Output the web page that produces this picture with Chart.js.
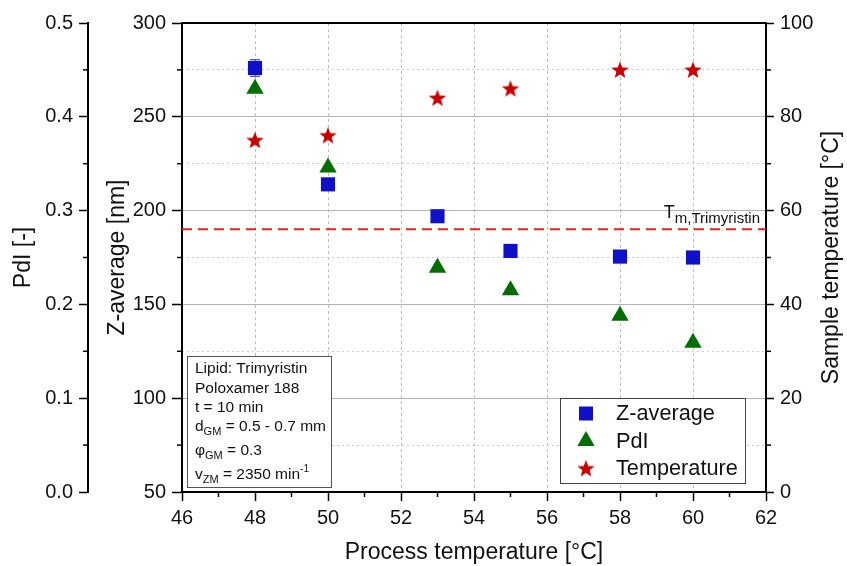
<!DOCTYPE html>
<html><head><meta charset="utf-8">
<script src="https://cdn.jsdelivr.net/npm/chart.js@4/dist/chart.umd.min.js"></script>
<style>html,body{margin:0;padding:0;background:#fff}</style>
</head><body>
<canvas id="c" width="847" height="566" style="width:847px;height:566px;display:block"></canvas>
<script>
// ---------- data ----------
const processTemps = [48, 50, 53, 55, 58, 60];
const zAverage = [276, 214, 197, 178.5, 175.5, 175];
const zAverageError = [4.5, 1.5, 1.5, 1.5, 1.5, 1.5];
const pdi = [0.43, 0.346, 0.239, 0.215, 0.188, 0.159];
const sampleTemp = [75, 76, 84, 86, 90, 90];
const meltingPoint = 56;
const meltingLabel = ['T', 'm,Trimyristin'];

const xMajorTicks = [46, 48, 50, 52, 54, 56, 58, 60, 62];
const zMajorTicks = [50, 100, 150, 200, 250, 300];
const pdiMajorTicks = ['0.0', '0.1', '0.2', '0.3', '0.4', '0.5'];
const tempMajorTicks = [0, 20, 40, 60, 80, 100];

const seriesNames = ['Z-average', 'PdI', 'Temperature'];
const axisTitles = {
  x: 'Process temperature [°C]',
  z: 'Z-average [nm]',
  pdi: 'PdI [-]',
  temp: 'Sample temperature [°C]'
};
const infoLines = [
  [{t: 'Lipid: Trimyristin'}],
  [{t: 'Poloxamer 188'}],
  [{t: 't = 10 min'}],
  [{t: 'd'}, {t: 'GM', sub: true}, {t: ' = 0.5 - 0.7 mm'}],
  [{t: 'φ'}, {t: 'GM', sub: true}, {t: ' = 0.3'}],
  [{t: 'v'}, {t: 'ZM', sub: true}, {t: ' = 2350 min'}, {t: '-1', sup: true}]
];

// ---------- styles ----------
const FONT = '"Liberation Sans", Arial, sans-serif';
const BLUE = '#1010c8', GREEN = '#006e00', RED = '#c80000', TXT = '#111';
const TICK_SIZE = 20;

function makeStar(color) {
  const c = document.createElement('canvas');
  c.width = 20; c.height = 20;
  const g = c.getContext('2d');
  g.fillStyle = color;
  g.beginPath();
  const R = 9.2, r = 3.8, cx = 10, cy = 10.6;
  for (let i = 0; i < 10; i++) {
    const rad = i % 2 === 0 ? R : r;
    const ang = -Math.PI / 2 + i * Math.PI / 5;
    const px = cx + rad * Math.cos(ang), py = cy + rad * Math.sin(ang);
    i === 0 ? g.moveTo(px, py) : g.lineTo(px, py);
  }
  g.closePath(); g.fill();
  return c;
}
const starImg = makeStar(RED);

const isMajor = (v, list) => list.some(m => Math.abs(Number(m) - v) < 1e-6);

const decor = {
  id: 'decor',
  beforeDatasetsDraw(chart) {
    const {ctx, chartArea: a, scales} = chart;
    ctx.save();
    // melting point line
    const yM = scales.yT.getPixelForValue(meltingPoint);
    ctx.strokeStyle = '#e32020'; ctx.lineWidth = 2; ctx.setLineDash([10, 6]);
    ctx.beginPath(); ctx.moveTo(a.left, yM); ctx.lineTo(a.right, yM); ctx.stroke();
    ctx.setLineDash([]);
    // error bars
    ctx.strokeStyle = '#5050f0'; ctx.lineWidth = 1.3;
    processTemps.forEach((t, i) => {
      const x = scales.x.getPixelForValue(t);
      const y1 = scales.yZ.getPixelForValue(zAverage[i] - zAverageError[i]);
      const y2 = scales.yZ.getPixelForValue(zAverage[i] + zAverageError[i]);
      ctx.beginPath();
      ctx.moveTo(x, y1); ctx.lineTo(x, y2);
      ctx.moveTo(x - 5, y1); ctx.lineTo(x + 5, y1);
      ctx.moveTo(x - 5, y2); ctx.lineTo(x + 5, y2);
      ctx.stroke();
    });
    // melting label
    ctx.fillStyle = TXT; ctx.textAlign = 'left'; ctx.textBaseline = 'alphabetic';
    ctx.font = '18px ' + FONT;
    const wT = ctx.measureText(meltingLabel[0]).width;
    ctx.font = '15px ' + FONT;
    const wS = ctx.measureText(meltingLabel[1]).width;
    const xStart = a.right - 6 - wT - wS;
    ctx.font = '18px ' + FONT;
    ctx.fillText(meltingLabel[0], xStart, yM - 11.5);
    ctx.font = '15px ' + FONT;
    ctx.fillText(meltingLabel[1], xStart + wT, yM - 6.5);
    ctx.restore();
  },
  afterDraw(chart) {
    const {ctx, chartArea: a, scales} = chart;
    ctx.save();
    // top border
    ctx.strokeStyle = '#000'; ctx.lineWidth = 2;
    ctx.beginPath(); ctx.moveTo(a.left - 1, a.top); ctx.lineTo(a.right + 1, a.top); ctx.stroke();
    // minor ticks
    ctx.lineWidth = 1.5;
    const minor = (scale, vals, dir) => {
      vals.forEach(v => {
        ctx.beginPath();
        if (dir === 'down') {
          const x = scale.getPixelForValue(v);
          ctx.moveTo(x, a.bottom); ctx.lineTo(x, a.bottom + 5);
        } else {
          const y = scale.getPixelForValue(v);
          const bx = dir === 'right' ? scale.left : scale.right;
          ctx.moveTo(bx, y); ctx.lineTo(bx + (dir === 'right' ? 5 : -5), y);
        }
        ctx.stroke();
      });
    };
    minor(scales.x, [47, 49, 51, 53, 55, 57, 59, 61], 'down');
    minor(scales.yZ, [75, 125, 175, 225, 275], 'left');
    minor(scales.yP, [0.05, 0.15, 0.25, 0.35, 0.45], 'left');
    minor(scales.yT, [10, 30, 50, 70, 90], 'right');

    // right axis title (reads bottom-to-top)
    ctx.fillStyle = TXT; ctx.font = '23px ' + FONT;
    ctx.textAlign = 'center'; ctx.textBaseline = 'middle';
    ctx.save();
    ctx.translate(832, (a.top + a.bottom) / 2);
    ctx.rotate(-Math.PI / 2);
    ctx.fillText(axisTitles.temp, 0, 0);
    ctx.restore();

    // info box
    ctx.fillStyle = '#fff'; ctx.strokeStyle = '#555'; ctx.lineWidth = 1;
    ctx.fillRect(187.5, 356.5, 144, 131);
    ctx.strokeRect(187.5, 356.5, 144, 131);
    const baselines = [373, 392.5, 412, 431, 455, 479];
    ctx.fillStyle = TXT; ctx.textAlign = 'left'; ctx.textBaseline = 'alphabetic';
    infoLines.forEach((parts, i) => {
      let x = 195;
      parts.forEach(p => {
        let y = baselines[i];
        if (p.sub) { ctx.font = '11px ' + FONT; y += 4; }
        else if (p.sup) { ctx.font = '10px ' + FONT; y -= 7; }
        else ctx.font = '15.5px ' + FONT;
        ctx.fillText(p.t, x, y);
        x += ctx.measureText(p.t).width;
      });
    });

    // legend
    ctx.fillStyle = '#fff'; ctx.strokeStyle = '#444'; ctx.lineWidth = 1;
    ctx.fillRect(560.5, 398.5, 185, 85);
    ctx.strokeRect(560.5, 398.5, 185, 85);
    const ly = [413.5, 441, 468.5];
    const ds = chart.data.datasets;
    ds.forEach((d, i) => {
      const style = d.pointStyle;
      const mx = 586, my = ly[i];
      if (style === 'rect') {
        ctx.fillStyle = d.backgroundColor;
        ctx.fillRect(mx - 7, my - 7, 14, 14);
      } else if (style === 'triangle') {
        const r = 10;
        ctx.fillStyle = d.backgroundColor;
        ctx.beginPath();
        ctx.moveTo(mx, my - r);
        ctx.lineTo(mx + r * Math.sin(2 * Math.PI / 3), my + r / 2);
        ctx.lineTo(mx - r * Math.sin(2 * Math.PI / 3), my + r / 2);
        ctx.closePath(); ctx.fill();
      } else {
        ctx.drawImage(style, mx - 10, my - 10, 20, 20);
      }
      ctx.fillStyle = TXT; ctx.font = '21.7px ' + FONT;
      ctx.textAlign = 'left'; ctx.textBaseline = 'middle';
      ctx.fillText(d.label, 616, my + 1);
    });
    ctx.restore();
  }
};

new Chart(document.getElementById('c'), {
  type: 'scatter',
  data: {
    datasets: [
      {
        label: seriesNames[0], yAxisID: 'yZ',
        data: processTemps.map((t, i) => ({x: t, y: zAverage[i]})),
        pointStyle: 'rect', pointRadius: 10, backgroundColor: BLUE, borderColor: BLUE, borderWidth: 0
      },
      {
        label: seriesNames[1], yAxisID: 'yP',
        data: processTemps.map((t, i) => ({x: t, y: pdi[i]})),
        pointStyle: 'triangle', pointRadius: 10, backgroundColor: GREEN, borderColor: GREEN, borderWidth: 0
      },
      {
        label: seriesNames[2], yAxisID: 'yT',
        data: processTemps.map((t, i) => ({x: t, y: sampleTemp[i]})),
        pointStyle: starImg, pointRadius: 10, backgroundColor: RED, borderColor: RED
      }
    ]
  },
  options: {
    responsive: false, animation: false, events: [], devicePixelRatio: 1,
    layout: {padding: {top: 23, left: 0, right: 0, bottom: 0}},
    plugins: {legend: {display: false}, tooltip: {enabled: false}},
    scales: {
      x: {
        type: 'linear', position: 'bottom', min: 46, max: 62,
        afterFit: s => { s.height = 74; },
        ticks: {
          stepSize: 1, autoSkip: false, maxRotation: 0, padding: 5, color: TXT,
          font: {family: FONT, size: TICK_SIZE},
          callback: v => isMajor(v, xMajorTicks) ? String(v) : ''
        },
        grid: {
          drawOnChartArea: true, tickLength: 9, lineWidth: 1,
          color: c => (isMajor(c.tick.value, xMajorTicks) && c.tick.value > 46 && c.tick.value < 62) ? '#bdbdbd' : 'rgba(0,0,0,0)',
          tickColor: c => isMajor(c.tick.value, xMajorTicks) ? '#000' : 'rgba(0,0,0,0)',
          tickWidth: 1.5
        },
        border: {display: true, color: '#000', width: 2, dash: [3, 3]},
        title: {display: true, text: axisTitles.x, color: TXT, font: {family: FONT, size: 23}, padding: {top: 0, bottom: 0}}
      },
      yZ: {
        type: 'linear', position: 'left', min: 50, max: 300, weight: 0,
        afterFit: s => { s.width = 94; },
        ticks: {
          stepSize: 25, autoSkip: false, padding: 6, color: TXT,
          font: {family: FONT, size: TICK_SIZE},
          callback: v => isMajor(v, zMajorTicks) ? String(v) : ''
        },
        grid: {
          drawOnChartArea: true, tickLength: 10, lineWidth: 1,
          color: c => (isMajor(c.tick.value, zMajorTicks) && c.tick.value > 50 && c.tick.value < 300) ? '#b4b4b4' : 'rgba(0,0,0,0)',
          tickColor: c => isMajor(c.tick.value, zMajorTicks) ? '#000' : 'rgba(0,0,0,0)',
          tickWidth: 1.5
        },
        border: {display: true, color: '#000', width: 2},
        title: {display: true, text: axisTitles.z, color: TXT, font: {family: FONT, size: 23}, padding: {top: 16, bottom: 0}}
      },
      yP: {
        type: 'linear', position: 'left', min: 0, max: 0.5, weight: 1,
        afterFit: s => { s.width = 88; },
        ticks: {
          stepSize: 0.05, autoSkip: false, padding: 6, color: TXT,
          font: {family: FONT, size: TICK_SIZE},
          callback: v => { const s = v.toFixed(1); return (isMajor(v, pdiMajorTicks) && pdiMajorTicks.includes(s)) ? s : ''; }
        },
        grid: {
          drawOnChartArea: false, tickLength: 9,
          tickColor: c => isMajor(c.tick.value, pdiMajorTicks) ? '#000' : 'rgba(0,0,0,0)',
          tickWidth: 1.5
        },
        border: {display: true, color: '#000', width: 2},
        title: {display: true, text: axisTitles.pdi, color: TXT, font: {family: FONT, size: 23}, padding: {top: 10, bottom: 0}}
      },
      yT: {
        type: 'linear', position: 'right', min: 0, max: 100,
        afterFit: s => { s.width = 81; },
        ticks: {
          stepSize: 10, autoSkip: false, padding: 6, color: TXT,
          font: {family: FONT, size: TICK_SIZE},
          callback: v => isMajor(v, tempMajorTicks) ? String(v) : ''
        },
        grid: {
          drawOnChartArea: true, tickLength: 8, lineWidth: 1,
          color: c => isMajor(c.tick.value, tempMajorTicks) ? 'rgba(0,0,0,0)' : '#cfcfcf',
          tickColor: c => isMajor(c.tick.value, tempMajorTicks) ? '#000' : 'rgba(0,0,0,0)',
          tickWidth: 1.5
        },
        border: {display: true, color: '#000', width: 2, dash: [2, 3]},
        title: {display: false}
      }
    }
  },
  plugins: [decor]
});
</script>
</body></html>
